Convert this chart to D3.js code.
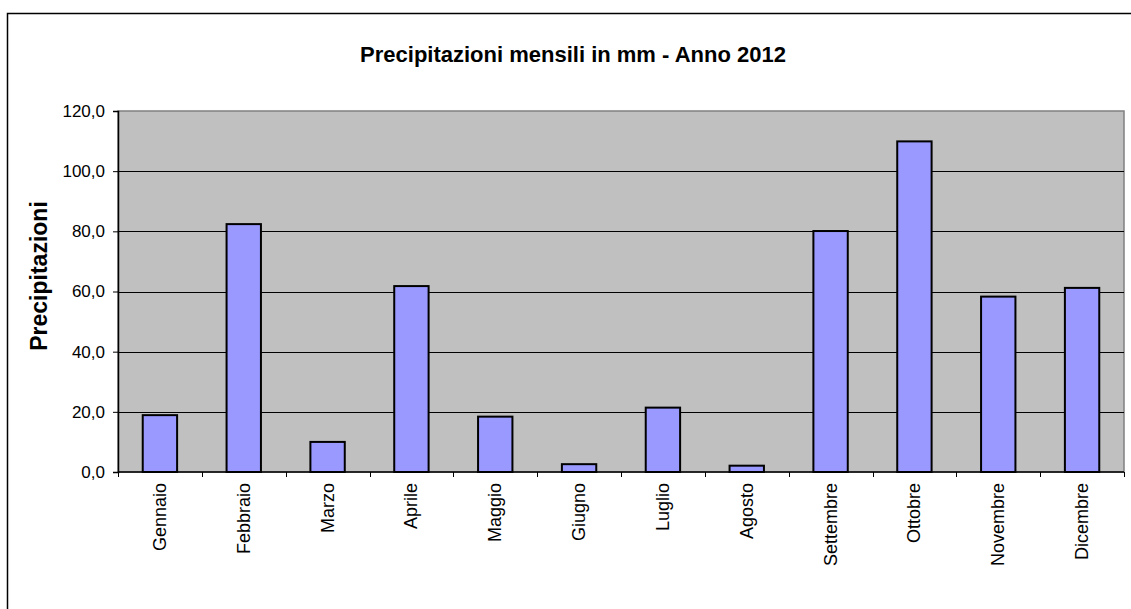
<!DOCTYPE html>
<html>
<head>
<meta charset="utf-8">
<script src="https://cdn.jsdelivr.net/npm/d3@7"></script>
<style>
  body { margin: 0; background: #fff; }
  text { font-family: "Liberation Sans", Arial, sans-serif; fill: #000; }
</style>
</head>
<body>
<div id="chart"></div>
<script>
var months = ["Gennaio", "Febbraio", "Marzo", "Aprile", "Maggio", "Giugno",
              "Luglio", "Agosto", "Settembre", "Ottobre", "Novembre", "Dicembre"];
var rain = [18.9, 82.4, 10.0, 61.8, 18.4, 2.6, 21.4, 2.1, 80.1, 109.9, 58.3, 61.2];
var yTicks = [0, 20, 40, 60, 80, 100, 120];

var svgWidth = 1131;
var svgHeight = 609;

var margin = { top: 111, right: 7, bottom: 137, left: 118 };
var width = svgWidth - margin.left - margin.right;
var height = svgHeight - margin.top - margin.bottom;

var svg = d3.select("#chart")
  .append("svg")
  .attr("width", svgWidth)
  .attr("height", svgHeight);

// outer frame (runs off right and bottom edges)
svg.append("rect")
  .attr("x", 7.5).attr("y", 13.5)
  .attr("width", svgWidth).attr("height", svgHeight)
  .attr("fill", "none").attr("stroke", "#000").attr("stroke-width", 1.5);

svg.append("text")
  .attr("x", 573).attr("y", 62)
  .attr("text-anchor", "middle")
  .attr("font-size", "22px").attr("font-weight", "bold")
  .text("Precipitazioni mensili in mm - Anno 2012");

var chartGroup = svg.append("g")
  .attr("transform", `translate(${margin.left}, ${margin.top})`);

var xScale = d3.scaleBand().domain(months).range([0, width]).padding(0);
var yScale = d3.scaleLinear().domain([0, 120]).range([height, 0]);

// plot background
chartGroup.append("rect")
  .attr("width", width).attr("height", height)
  .attr("fill", "#c0c0c0")
  .attr("stroke", "#808080").attr("stroke-width", 1.5);

// gridlines
chartGroup.selectAll(".grid")
  .data(yTicks.filter(d => d > 0 && d < 120))
  .enter()
  .append("line")
  .attr("x1", 0).attr("x2", width)
  .attr("y1", d => Math.round(yScale(d)) + 0.5)
  .attr("y2", d => Math.round(yScale(d)) + 0.5)
  .attr("stroke", "#000").attr("stroke-width", 1);

// bars
var barW = xScale.bandwidth() * 0.41;
chartGroup.selectAll(".bar")
  .data(rain)
  .enter()
  .append("rect")
  .attr("x", (d, i) => xScale(months[i]) + (xScale.bandwidth() - barW) / 2)
  .attr("y", d => yScale(d))
  .attr("width", barW)
  .attr("height", d => height - yScale(d))
  .attr("fill", "#9999ff")
  .attr("stroke", "#000").attr("stroke-width", 2);

// y axis
var leftAxis = d3.axisLeft(yScale)
  .tickValues(yTicks)
  .tickSize(5)
  .tickPadding(8)
  .tickFormat(d => d3.format(".1f")(d).replace(".", ","));

var yAxisG = chartGroup.append("g").call(leftAxis);
yAxisG.select(".domain").attr("stroke", "#000").attr("stroke-width", 1.5);
yAxisG.selectAll("text")
  .attr("font-size", "17px")
  .attr("font-family", "Liberation Sans, Arial, sans-serif");

// x axis: ticks at category boundaries
var xAxisG = chartGroup.append("g")
  .attr("transform", `translate(0, ${height})`);
xAxisG.append("line")
  .attr("x1", 0).attr("x2", width)
  .attr("stroke", "#000").attr("stroke-width", 1.5);
xAxisG.selectAll(".xtick")
  .data(months.concat(["end"]))
  .enter()
  .append("line")
  .attr("x1", (d, i) => Math.round(i * xScale.step()) + 0.5)
  .attr("x2", (d, i) => Math.round(i * xScale.step()) + 0.5)
  .attr("y1", 0).attr("y2", 5)
  .attr("stroke", "#000");

xAxisG.selectAll(".xlabel")
  .data(months)
  .enter()
  .append("text")
  .attr("transform", d => `translate(${xScale(d) + xScale.bandwidth() / 2 + 6}, 11) rotate(-90)`)
  .attr("text-anchor", "end")
  .attr("font-size", "18px")
  .text(d => d);

// y axis title
svg.append("text")
  .attr("transform", "translate(47, 276) rotate(-90)")
  .attr("text-anchor", "middle")
  .attr("font-size", "23px").attr("font-weight", "bold")
  .text("Precipitazioni");
</script>
</body>
</html>
